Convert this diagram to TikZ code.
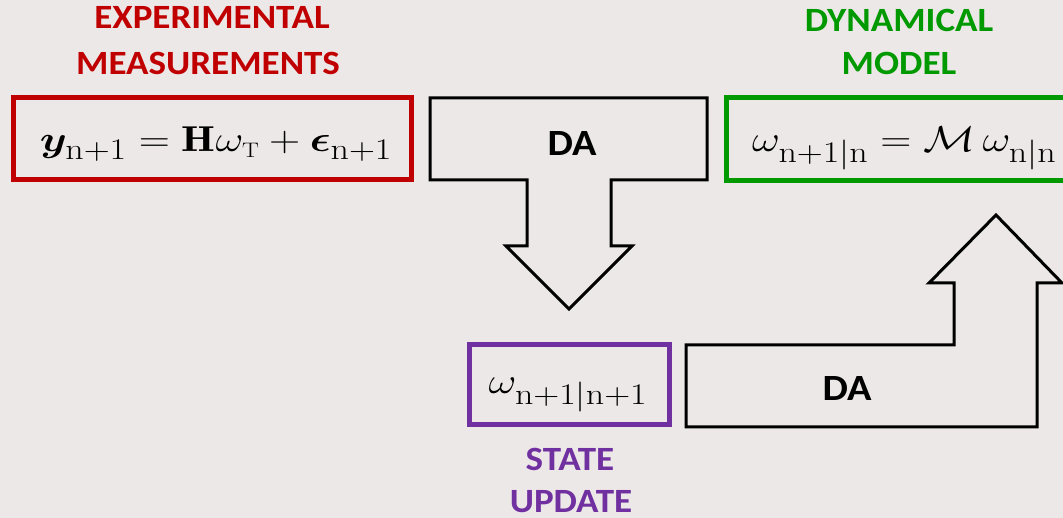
\RequirePackage{fix-cm}
\documentclass[tikz,border=0pt]{standalone}
\usepackage{amsmath,bm}
\usepackage{fontspec}
\setsansfont{Carlito}
\DeclareMathSizes{36}{36}{30}{21}
\definecolor{bg}{RGB}{237,232,232}
\definecolor{expred}{RGB}{192,0,0}
\definecolor{modgreen}{RGB}{0,153,0}
\definecolor{updpurple}{RGB}{112,48,160}
% slightly widened lettering for labels and formulas
\newcommand\widetext[1]{\scalebox{1.09}[1]{#1}}
\newcommand\wideformula[1]{\scalebox{1.2}[1]{#1}}
\tikzset{
  eqbox/.style={draw, line width=5pt, inner sep=0pt},
  eqtext/.style={font=\fontsize{36}{44}\selectfont, inner sep=0pt, anchor=base},
  heading/.style={font=\sffamily\bfseries\fontsize{34}{40}\selectfont, inner sep=0pt, anchor=base},
  blockarrow/.style={draw=black, line width=3pt, line join=miter, miter limit=10},
  datext/.style={font=\sffamily\bfseries\fontsize{37}{44}\selectfont, inner sep=0pt},
}
\begin{document}
\begin{tikzpicture}[x=1pt,y=-1pt]
\useasboundingbox (0,0) rectangle (1063,518);
\clip (0,0) rectangle (1063,518);
\fill[bg] (0,0) rectangle (1063,518);

% headings
\node[heading, text=expred] (exp1) at (212,29) {\widetext{EXPERIMENTAL}};
\node[heading, text=expred] (exp2) at (208,75) {\widetext{MEASUREMENTS}};
\node[heading, text=modgreen] (dyn1) at (899,32) {\widetext{DYNAMICAL}};
\node[heading, text=modgreen] (dyn2) at (899,75) {\widetext{MODEL}};
\node[heading, text=updpurple] (upd1) at (570,470) {\widetext{STATE}};
\node[heading, text=updpurple] (upd2) at (571,512) {\widetext{UPDATE}};

% measurement equation
\node[eqbox, draw=expred, minimum width=398pt, minimum height=82pt] (meas) at (212,139) {};
\node[eqtext] (measeq) at (216,152)
  {\wideformula{$\bm{y}_{\mathrm{n+1}} = \mathbf{H}\omega_{\scriptscriptstyle\mathrm{T}} + \bm{\epsilon}_{\mathrm{n+1}}$}};

% model equation (box runs past the right edge)
\node[eqbox, draw=modgreen, minimum width=364pt, minimum height=83pt] (model) at (908,139.5) {};
\node[eqtext, anchor=base west] (modeleq) at (752,152)
  {\wideformula{$\omega_{\mathrm{n+1|n}} = \mathcal{M}\,\omega_{\mathrm{n|n}}$}};

% updated state
\node[eqbox, draw=updpurple, minimum width=200pt, minimum height=80pt] (state) at (569,385) {};
\node[eqtext] (stateeq) at (568,394) {\wideformula{$\omega_{\mathrm{n+1|n+1}}$}};

% analysis step: downward block arrow
\draw[blockarrow] (430,98) -- (707,98) -- (707,180) -- (611,180) -- (611,246)
  -- (632,246) -- (569,309) -- (506,246) -- (527,246) -- (527,180) -- (430,180) -- cycle;
\node[datext] (da1) at (572,144) {\widetext{DA}};

% forecast step: bent upward block arrow
\draw[blockarrow] (686,345) -- (954,345) -- (954,283) -- (929,283) -- (996,215)
  -- (1062,283) -- (1037,283) -- (1037,427) -- (686,427) -- cycle;
\node[datext] (da2) at (847,389) {\widetext{DA}};
\end{tikzpicture}
\end{document}
